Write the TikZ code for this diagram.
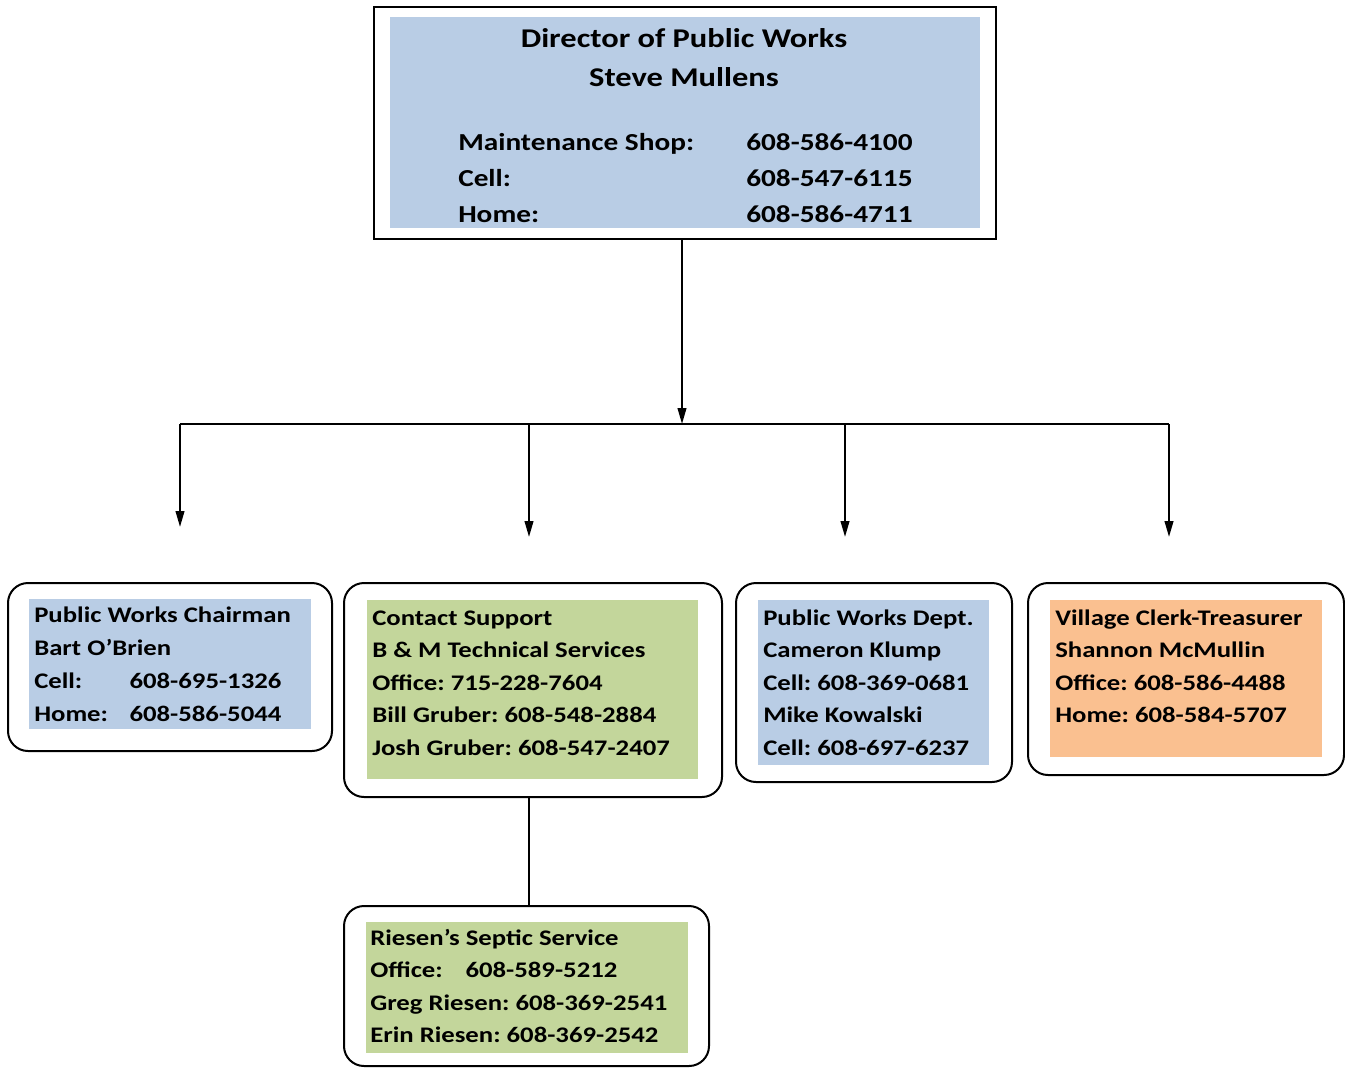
\documentclass[tikz,border=0pt]{standalone}
\usepackage{fontspec}
\setmainfont{Carlito}[FakeStretch=1.2]
\usetikzlibrary{arrows.meta,fit}
\definecolor{BoxBlue}{RGB}{185,205,229}
\definecolor{BoxGreen}{RGB}{195,214,155}
\definecolor{BoxOrange}{RGB}{250,192,144}
\newcommand{\tabcol}[1]{\makebox[71.5pt][l]{#1}}
\frenchspacing

\begin{document}
\begin{tikzpicture}[x=0.75pt,y=-0.75pt,
  card/.style={draw,line width=1.5pt,rounded corners=15pt,inner sep=0pt},
  panel/.style={inner sep=0pt,outer sep=0pt},
  head/.style={font=\bfseries\fontsize{20.3}{22}\selectfont,inner sep=0pt,anchor=base},
  big/.style={font=\bfseries\fontsize{18.3}{20}\selectfont,inner sep=0pt,anchor=base west},
  small/.style={font=\bfseries\fontsize{16.7}{18}\selectfont,inner sep=0pt,anchor=base west},
  link/.style={line width=1.5pt},
  tip/.style={link,-{Triangle[length=12pt,width=6.5pt]}}]
\useasboundingbox (0,0) rectangle (1345,1068);

% director
\node[draw,line width=1.5pt,inner sep=0pt,fit={(374,7) (996,239)}] (director) {};
\node[panel,fill=BoxBlue,fit={(390,17) (980,228)}] (directorfill) {};
\node[head] (title1) at (684,47) {Director of Public Works};
\node[head] (title2) at (684,86) {Steve Mullens};
\foreach \lab/\num [count=\i] in {Maintenance Shop:/608-586-4100,Cell:/608-547-6115,Home:/608-586-4711}{
  \node[big] (lab\i) at (458,114+36*\i) {\lab};
  \node[big] (num\i) at (746,114+36*\i) {\num};
}

% connectors
\coordinate (hub) at (682,424);
\coordinate (busL) at (180,424);
\coordinate (busR) at (1169,424);
\coordinate (enda) at (180,527);
\coordinate (endb) at (529,537);
\coordinate (endc) at (845,537);
\coordinate (endd) at (1169,537);
\draw[tip] (hub |- director.south) -- (hub);
\draw[link] (busL) -- (busR);
\foreach \e in {a,b,c,d}
  \draw[tip] (end\e |- hub) -- (end\e);

% chairman
\node[card,fit={(8,583) (332,751)}] (chair) {};
\node[panel,fill=BoxBlue,fit={(29,599) (311,729)}] (chairfill) {};
\foreach \t [count=\i] in {Public Works Chairman,Bart O’Brien,\tabcol{Cell:}608-695-1326,\tabcol{Home:}608-586-5044}
  \node[small] (chair\i) at (34,589+33*\i) {\t};

% contact support
\node[card,fit={(344,583) (722,797)}] (contact) {};
\node[panel,fill=BoxGreen,fit={(367,600) (698,779)}] (contactfill) {};
\foreach \t [count=\i] in {Contact Support,B \& M Technical Services,Office: 715-228-7604,Bill Gruber: 608-548-2884,Josh Gruber: 608-547-2407}
  \node[small] (contact\i) at (372,592.5+32.6*\i) {\t};

% public works dept
\node[card,fit={(736,583) (1012,782)}] (dept) {};
\node[panel,fill=BoxBlue,fit={(758,600) (989,765)}] (deptfill) {};
\foreach \t [count=\i] in {Public Works Dept.,Cameron Klump,Cell: 608-369-0681,Mike Kowalski,Cell: 608-697-6237}
  \node[small] (dept\i) at (763,592.5+32.5*\i) {\t};

% village clerk
\node[card,fit={(1028,583) (1344,775)}] (clerk) {};
\node[panel,fill=BoxOrange,fit={(1050,600) (1322,757)}] (clerkfill) {};
\foreach \t [count=\i] in {Village Clerk-Treasurer,Shannon McMullin,Office: 608-586-4488,Home: 608-584-5707}
  \node[small] (clerk\i) at (1055,592.5+32.5*\i) {\t};

% septic
\node[card,fit={(344,906) (709,1066)}] (septic) {};
\node[panel,fill=BoxGreen,fit={(366,922) (688,1053)}] (septicfill) {};
\foreach \t [count=\i] in {Riesen’s Septic Service,\tabcol{Office:}608-589-5212,Greg Riesen: 608-369-2541,Erin Riesen: 608-369-2542}
  \node[small] (septic\i) at (370,912.5+32.5*\i) {\t};
\draw[link] (contact.south -| endb) -- (septic.north -| endb);

\end{tikzpicture}
\end{document}
